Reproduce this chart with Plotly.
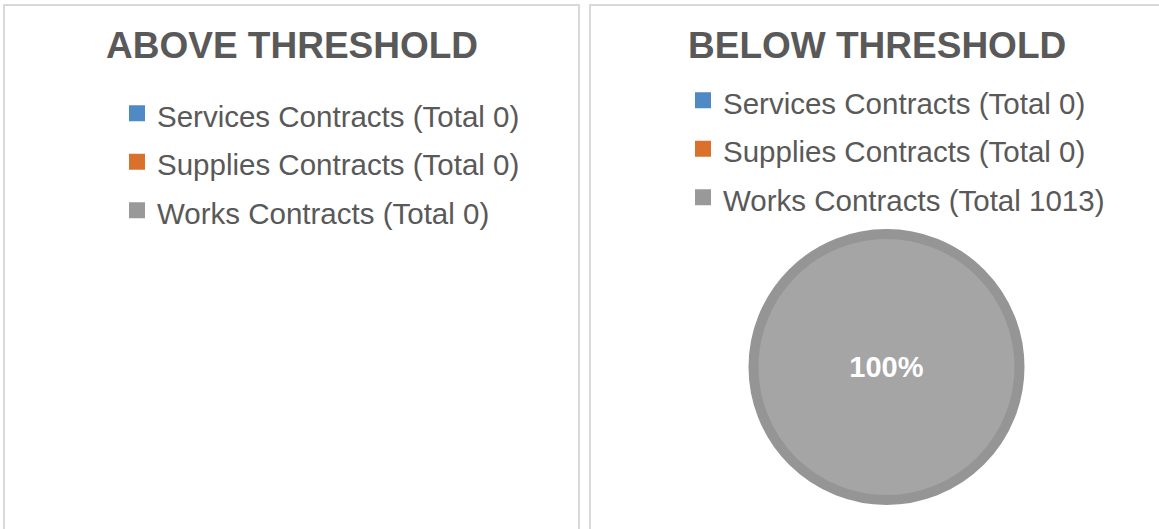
import plotly.graph_objects as go

# data
contract_types = ["Services Contracts", "Supplies Contracts", "Works Contracts"]
above_threshold_totals = [0, 0, 0]
below_threshold_totals = [0, 0, 1013]
panel_titles = ["ABOVE THRESHOLD", "BELOW THRESHOLD"]

slice_colors = ["#4F8AC5", "#D9712C", "#A5A5A5"]
slice_edge_colors = ["#4F8AC5", "#D9712C", "#959595"]
legend_colors = ["#4F8AC5", "#D9712C", "#999999"]

W, H = 1159, 529
FONT = "Liberation Sans, Arial, sans-serif"
TEXT_GREY = "#595959"


def px(x):
    return x / W


def py(y):
    return 1 - y / H


def legend_label(name, total):
    # smaller span keeps the text size, the legend font sets the row spacing
    return f"<span style='font-size:29.5px'>{name} (Total {total})</span>"


def pie_domain(cx, cy, r):
    return dict(x=[px(cx - r), px(cx + r)], y=[py(cy + r), py(cy - r)])


fig = go.Figure()

# one pie and one legend per panel: (totals, legend id, centre x)
panels = [
    (above_threshold_totals, "legend", 291.5),
    (below_threshold_totals, "legend2", 886.5),
]
for totals, legend_id, cx in panels:
    fig.add_trace(
        go.Pie(
            labels=contract_types,
            values=totals,
            sort=False,
            direction="clockwise",
            marker=dict(
                colors=slice_colors,
                line=dict(color=slice_edge_colors, width=10),
            ),
            textinfo="percent",
            textposition="inside",
            insidetextorientation="horizontal",
            textfont=dict(family=FONT, size=29, color="white", weight="bold"),
            domain=pie_domain(cx, 367, 133),
            showlegend=False,
            hoverinfo="label+value+percent",
        )
    )
    # legend entries (an all-zero pie gets no legend of its own)
    for name, total, color in zip(contract_types, totals, legend_colors):
        fig.add_trace(
            go.Scatter(
                x=[None],
                y=[None],
                mode="markers",
                marker=dict(symbol="square", size=16, color=color),
                name=legend_label(name, total),
                legend=legend_id,
                hoverinfo="skip",
            )
        )

# panel frames
for x0, x1 in [(4, 579), (590, 1166)]:
    fig.add_shape(
        type="rect",
        xref="paper",
        yref="paper",
        x0=px(x0),
        x1=px(x1),
        y0=py(545),
        y1=py(5),
        line=dict(color="#D9D9D9", width=2),
        fillcolor="rgba(0,0,0,0)",
        layer="below",
    )

# panel titles
for title, cx in zip(panel_titles, [291.5, 876.5]):
    fig.add_annotation(
        text=f"<b>{title}</b>",
        x=px(cx),
        y=py(46),
        xref="paper",
        yref="paper",
        xanchor="center",
        yanchor="middle",
        showarrow=False,
        font=dict(family=FONT, size=37, color=TEXT_GREY),
    )

legend_args = dict(
    orientation="v",
    xanchor="left",
    yanchor="top",
    bgcolor="rgba(0,0,0,0)",
    borderwidth=0,
    font=dict(family=FONT, size=35, color=TEXT_GREY),
)

fig.update_xaxes(visible=False)
fig.update_yaxes(visible=False)
fig.update_layout(
    width=W,
    height=H,
    margin=dict(l=0, r=0, t=0, b=0),
    paper_bgcolor="white",
    plot_bgcolor="white",
    showlegend=True,
    legend=dict(x=px(117), y=py(84), **legend_args),
    legend2=dict(x=px(683), y=py(71), **legend_args),
)

# drop the browser's default body margin so the figure sits at the page corner
fig.write_html(
    "out.html",
    config={"displayModeBar": False},
    post_script="document.body.style.margin='0px';",
)
